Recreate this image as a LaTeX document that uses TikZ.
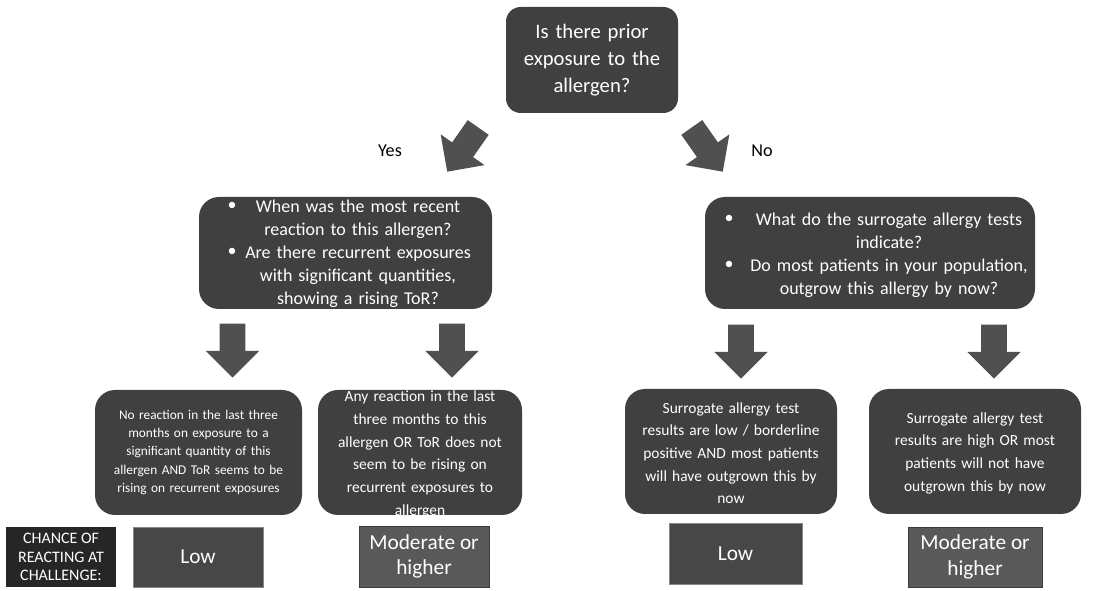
\documentclass[tikz,border=0pt]{standalone}
\usepackage{fontspec}
\setmainfont{Carlito}
\usetikzlibrary{shapes.arrows,positioning}
\definecolor{boxgray}{RGB}{64,64,64}
\definecolor{arrgray}{RGB}{80,80,80}
\definecolor{lowgray}{RGB}{71,71,71}
\definecolor{modgray}{RGB}{89,89,89}
\definecolor{chancegray}{RGB}{38,38,38}
\definecolor{edgelight}{RGB}{135,135,135}
\definecolor{edgedark}{RGB}{60,60,60}
\tikzset{
  qtop/.style={rectangle,fill=boxgray,text=white,minimum width=129pt,minimum height=79.5pt,
    rounded corners=11pt,inner sep=0pt,text width=125pt,align=center,
    font=\fontsize{15.5}{20}\selectfont},
  qmid/.style={rectangle,fill=boxgray,minimum width=#1,minimum height=84pt,
    rounded corners=15pt,inner sep=0pt},
  qmid/.default=220pt,
  midtxt/.style={text=white,text width=#1,align=center,inner sep=0pt,
    font=\fontsize{13.5}{17.25}\selectfont},
  midtxt/.default=220pt,
  bul/.style={text=white,inner sep=0pt,font=\fontsize{13.5}{17.25}\selectfont},
  ansbox/.style={rectangle,fill=boxgray,minimum width=#1,minimum height=93.75pt,
    rounded corners=15pt,inner sep=0pt},
  ansbox/.default=155pt,
  anstxt/.style={text=white,text width=#1,align=center,inner sep=0pt,
    font=\fontsize{11.6}{17}\selectfont},
  anstxt/.default=150pt,
  blkarr/.style={single arrow,fill=arrgray,draw=none,minimum height=40.5pt,
    inner xsep=0pt,inner ysep=9.4pt,single arrow head extend=10.5pt},
  outbox/.style={rectangle,fill=lowgray,draw=edgelight,line width=0.6pt,minimum width=#1,
    minimum height=45pt,inner sep=0pt,text=white,align=center,
    font=\fontsize{16}{19}\selectfont},
  outbox/.default=97.5pt,
  modbox/.style={outbox=#1,fill=modgray,draw=edgedark},
  modbox/.default=97.5pt,
  lbl/.style={inner sep=0pt,font=\fontsize{13.6}{16}\selectfont}
}

\begin{document}
\begin{tikzpicture}[x=0.75pt,y=-0.75pt]
  \useasboundingbox (0,0) rectangle (1108,591);

  % first question
  \node[qtop] (prior) at (592,60) {Is there prior\\ exposure to the\\ allergen?};
  \node[blkarr,rotate=235,anchor=tip] (yesarr) at (447,172) {};
  \node[blkarr,rotate=305,anchor=tip] (noarr) at (723,172) {};
  \node[lbl] (yes) at (390,151) {Yes};
  \node[lbl] (no) at (762,151) {No};

  % second level
  \node[qmid=219.75pt] (qyes) at (345.5,253) {};
  \node[midtxt=210pt] (qyestxt) at (358,254) {When was the most recent\\ reaction to this allergen?\\
    Are there recurrent exposures\\ with significant quantities,\\ showing a rising ToR?};
  \node[bul] (bulyes1) at (232,206) {•};
  \node[bul] (bulyes2) at (232,252) {•};

  \node[qmid=247.5pt] (qno) at (870,253) {};
  \node[midtxt=240pt] (qnotxt) at (889,255) {What do the surrogate allergy tests\\ indicate?\\
    Do most patients in your population,\\ outgrow this allergy by now?};
  \node[bul] (bulno1) at (729,219) {•};
  \node[bul] (bulno2) at (729,265) {•};

  \node[blkarr,rotate=-90,anchor=tip] (arrA) at (232.5,378) {};
  \node[blkarr,rotate=-90,anchor=tip] (arrB) at (452,378) {};
  \node[blkarr,rotate=-90,anchor=tip] (arrC) at (741,379) {};
  \node[blkarr,rotate=-90,anchor=tip] (arrD) at (994,379) {};

  % answers
  \node[ansbox=155.25pt] (ansA) at (198.5,452.5) {};
  \node[anstxt=150pt,font=\fontsize{10}{13.7}\selectfont] (ansAtxt) at (ansA.center)
    {No reaction in the last three\\ months on exposure to a\\ significant quantity of this\\
     allergen AND ToR seems to be\\ rising on recurrent exposures};
  \node[ansbox=153pt] (ansB) at (420,452.5) {};
  \node[anstxt=150pt] (ansBtxt) at ([yshift=-1.5pt]ansB.center)
    {Any reaction in the last\\ three months to this\\ allergen OR ToR does not\\
     seem to be rising on\\ recurrent exposures to\\ allergen};
  \node[ansbox=159pt] (ansC) at (731,451.5) {};
  \node[anstxt=155pt] (ansCtxt) at ([yshift=-1.3pt]ansC.center)
    {Surrogate allergy test\\ results are low / borderline\\ positive AND most patients\\
     will have outgrown this by\\ now};
  \node[ansbox=159pt] (ansD) at (975,451.5) {};
  \node[anstxt=155pt] (ansDtxt) at ([yshift=-1.3pt]ansD.center)
    {Surrogate allergy test\\ results are high OR most\\ patients will not have\\
     outgrown this by now};

  % chance of reacting
  \node[outbox=82.5pt,fill=chancegray,draw=none,font=\fontsize{12}{13.7}\selectfont]
    (chance) at (61,557) {CHANCE OF\\ REACTING AT\\ CHALLENGE:};
  \node[outbox] (lowA) at (198,557) {Low};
  \node[modbox=97.5pt,minimum height=45.75pt] (modB) at (424,556.5) {Moderate or\\ higher};
  \node[outbox=99.75pt,minimum height=45.75pt] (lowC) at (735.5,553.5) {Low};
  \node[modbox=100.5pt] (modD) at (975,557) {Moderate or\\ higher};
\end{tikzpicture}
\end{document}
